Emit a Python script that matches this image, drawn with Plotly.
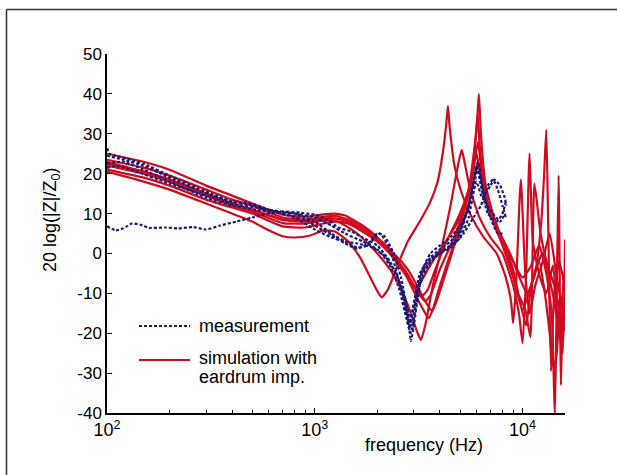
import plotly.graph_objects as go

# ---------------- data ----------------
# measurement curves (dashed)
m1_f = [100, 110, 120, 132, 145, 160, 190, 220, 260, 300, 350, 420, 500, 600, 700, 850, 1000, 1150, 1300, 1500, 1700, 2000, 2300, 2600, 2800, 2950, 3050, 3300, 3600, 4000, 4500, 5000, 5600, 6000, 6400, 7000, 7300, 7800, 8200, 8350]
m1_v = [6.8, 5.8, 6.3, 7.5, 7.2, 6.4, 6.5, 6.3, 6.6, 6.0, 7.0, 8.0, 9.0, 10.0, 10.5, 10.2, 9.7, 8.5, 6.5, 5.5, 4.0, 2.0, -2, -8, -14, -19, -12, -4, 0, 2, 4, 7, 12, 18, 14, 17, 18.5, 17, 14, 12]

m2_f = [100, 103, 110, 130, 150, 200, 300, 400, 500, 700, 900, 1000, 1200, 1400, 1600, 1800, 2000, 2150, 2400, 2600, 2800, 2900, 3000, 3200, 3500, 4000, 4500, 5000, 5500, 6000, 6300, 6800, 7500, 8000, 8300]
m2_v = [26.4, 25, 24.5, 23.5, 22.5, 19.5, 15.5, 13, 12, 10, 8.5, 7, 4.6, 2.5, 1.2, 2.5, 5, 4.5, 0, -6, -15, -22, -18, -8, -3, 0, 2, 5, 12, 22, 17, 10, 8, 10, 13]

m3_f = [100, 120, 150, 200, 300, 400, 500, 600, 800, 1000, 1200, 1400, 1600, 1900, 2200, 2500, 2700, 2850, 2950, 3200, 3500, 4000, 4500, 5000, 5500, 5900, 6100, 6500, 7000, 7600, 8000]
m3_v = [24.5, 23.5, 22, 19, 15, 13, 12.5, 11, 9, 6, 4, 3, 2.5, 1.5, -1, -6, -12, -18, -14, -6, -2, 0, 1.5, 4, 9, 18, 23, 15, 9, 5, 5]

m4_f = [100, 110, 130, 200, 300, 400, 600, 800, 1000, 1200, 1400, 1700, 2000, 2300, 2550, 2750, 2850, 3000, 3200, 3600, 4000, 4500, 5000, 5500, 6000, 6200, 6600, 7200, 7800, 8200]
m4_v = [21.4, 22, 21, 17.5, 14.5, 12.5, 11, 10, 9, 7, 5, 3, 1, -3, -9, -16, -19, -13, -5, -1, 1, 3, 6, 12, 21, 20, 13, 10, 8, 10]

m5_f = [100, 120, 150, 200, 300, 400, 600, 800, 1000, 1200, 1400, 1600, 1800, 2050, 2300, 2600, 2800, 2900, 3050, 3300, 3700, 4200, 4800, 5200, 5800, 6300, 6800, 7200, 7600, 8000, 8300]
m5_v = [22.5, 23, 21, 18, 14, 12, 10.5, 10, 8, 5, 3, 1.5, 2, 5, 1, -9, -17, -20, -14, -5, -1, 1, 3, 5, 9, 12, 17, 18.5, 16, 12, 9]

# simulation curves (solid)
s1_f = [100, 150, 200, 300, 400, 500, 600, 700, 800, 950, 1100, 1250, 1450, 1650, 1850, 2000, 2100, 2250, 2500, 2800, 3200, 3600, 3900, 4150, 4300, 4370, 4450, 4700, 5100, 5700, 6500, 7500, 8300, 8800, 9000, 9300, 9800, 10300, 10800, 11500, 12500, 13500, 14500, 15300, 16000]
s1_v = [20.5, 18, 16, 12.5, 10, 8, 5.8, 4.3, 4, 4.5, 5.8, 5.5, 3, -1, -6, -9.5, -11, -9, -3, 3, 8, 13, 18, 26, 33, 37, 32, 22, 15, 9, 4, 0, -6, -12, -17.5, -8, 18.5, -5, -15, -8, -2, 5, -5, -12, -16]

s2_f = [100, 150, 200, 300, 400, 500, 700, 900, 1100, 1250, 1400, 1600, 1800, 2000, 2300, 2600, 2900, 3100, 3240, 3400, 3700, 4100, 4500, 4800, 5000, 5100, 5250, 5600, 6200, 7000, 8000, 9000, 9600, 10000, 10400, 10800, 11200, 12000, 13000, 14000, 15000, 16000]
s2_v = [23, 20.5, 18.5, 15, 12.5, 11, 8.5, 8.2, 8.5, 8.2, 7, 5, 2.5, 0, -4, -9, -15, -19.5, -21.7, -18, -8, 2, 12, 20, 24.5, 26, 23, 16, 9, 4, 0, -8, -15, -22.5, -5, 25, 3, -5, -10, -3, -19.5, -16]

s3_f = [100, 150, 200, 300, 400, 500, 700, 900, 1100, 1250, 1400, 1700, 2000, 2300, 2600, 2850, 3000, 3100, 3250, 3500, 3900, 4400, 5000, 5500, 5850, 6050, 6160, 6300, 6600, 7200, 8000, 8800, 9500, 10300, 10900, 11400, 12200, 13200, 14200, 15200, 16000]
s3_v = [25, 23, 21, 17, 14.5, 12.5, 9.7, 9.2, 9.8, 10, 9.5, 7, 4, 0, -3, -6.5, -8, -8.4, -7, -4, 0, 4, 9, 16, 26, 34, 40, 30, 18, 10, 3, -3, -10, -14, -21, 17.5, 5, -3, -8, -15, -19.5]

s4_f = [100, 150, 200, 300, 400, 500, 700, 900, 1100, 1250, 1450, 1700, 2000, 2300, 2600, 2900, 3200, 3400, 3530, 3700, 4000, 4500, 5000, 5500, 5850, 6000, 6080, 6200, 6500, 7000, 7800, 8700, 9500, 10500, 11500, 12300, 12700, 13000, 13300, 13700, 14200, 15000, 16000]
s4_v = [23.5, 21.5, 19.5, 16, 13.5, 12, 9, 8.5, 9.2, 9.4, 8.5, 6.5, 4, 1, -3, -8, -12.5, -15, -16.2, -14, -8, 0, 7, 15, 25, 31, 35, 28, 17, 10, 5, 0, -5, -10, -5, 8, 20, 31, 5, -29.5, -10, -2, -8.5]

s5_f = [100, 150, 200, 300, 400, 500, 700, 900, 1100, 1250, 1450, 1700, 2000, 2400, 2800, 3100, 3400, 3600, 3690, 3850, 4200, 4700, 5200, 5600, 5900, 6100, 6300, 6700, 7300, 8100, 9000, 10000, 11000, 12000, 13000, 13800, 14300, 14600, 14900, 15300, 15700, 16000]
s5_v = [22.5, 20.5, 18.5, 15, 12.5, 11, 8.4, 8, 8.8, 8.8, 8, 6, 3.5, 0, -4, -8, -12, -14, -14.2, -12, -6, 2, 8, 14, 20, 23, 20, 13, 8, 3, -2, -6, -3, 2, -5, -15, -41, -10, 19.5, -33, -5, -8.5]

s6_f = [100, 150, 200, 300, 400, 500, 700, 900, 1100, 1250, 1450, 1700, 2000, 2300, 2700, 3000, 3300, 3500, 3800, 4300, 4900, 5500, 5900, 6100, 6300, 6700, 7300, 8200, 9000, 9700, 10400, 11000, 11700, 12500, 13400, 14200, 15000, 15600, 16000]
s6_v = [22, 20, 18, 14.5, 12, 10.5, 7.6, 7.5, 8.2, 8.2, 7.5, 5.5, 3, 0, -5, -8.5, -10.5, -9, -4, 3, 9, 16, 24, 28, 22, 14, 8, 2, -4, -12, -18, -8, -3, 0, -6, -12, -20, -25, 3.5]

s7_f = [100, 150, 200, 300, 400, 500, 700, 900, 1100, 1250, 1450, 1700, 2000, 2300, 2700, 3000, 3200, 3400, 3600, 4000, 4500, 5000, 5500, 5800, 6000, 6200, 6600, 7200, 8000, 9000, 10000, 11000, 12000, 12800, 13500, 14100, 14600, 15200, 16000]
s7_v = [21, 19, 17, 13.5, 11.5, 10, 6.8, 6.5, 7.5, 8, 7.5, 5.5, 3, 0, -4, -8, -10.5, -12, -10.5, -4, 2, 8, 15, 21, 25, 21, 14, 8, 2, -6, -14, -8, -2, -10, -20, -29, -25, -10, -19.5]

measurements = [(m1_f, m1_v), (m2_f, m2_v), (m3_f, m3_v), (m4_f, m4_v), (m5_f, m5_v)]
simulations = [(s1_f, s1_v), (s2_f, s2_v), (s3_f, s3_v), (s4_f, s4_v), (s5_f, s5_v), (s6_f, s6_v), (s7_f, s7_v)]

x_tickvals = [100, 1000, 10000]
x_ticktext = ["10<sup>2</sup>", "10<sup>3</sup>", "10<sup>4</sup>"]
x_minor = [200, 300, 400, 500, 600, 700, 800, 900,
           2000, 3000, 4000, 5000, 6000, 7000, 8000, 9000]
y_tickvals = [-40, -30, -20, -10, 0, 10, 20, 30, 40, 50]
y_ticktext = ["-40", "-30", "-20", "-10", "0", "10", "20", "30", "40", "50"]

legend_meas = "measurement"
legend_sim_1 = "simulation with"
legend_sim_2 = "eardrum imp."
x_title = "frequency (Hz)"
y_title = "20 log(|Z|/Z<sub>0</sub>)"

# ---------------- styling / layout ----------------
W, H = 617, 475
L, R, T, B = 107, 565, 54, 413
FONT = "Liberation Sans, Arial, sans-serif"
RED = "#d20a20"
NAVY = "#1c1a72"


def px(x):
    return (x - L) / (R - L)


def py(y):
    return (B - y) / (B - T)


fig = go.Figure()
for f, v in simulations:
    fig.add_trace(go.Scatter(x=f, y=v, mode="lines",
                             line=dict(color=RED, width=2.2, shape="spline", smoothing=0.5),
                             showlegend=False, hoverinfo="skip"))
for f, v in measurements:
    fig.add_trace(go.Scatter(x=f, y=v, mode="lines",
                             line=dict(color=NAVY, width=2.2, dash="3px,2px", shape="spline", smoothing=0.5),
                             showlegend=False, hoverinfo="skip"))

fig.update_xaxes(type="log", range=[2, 4.204], showgrid=False, zeroline=False,
                 showline=True, linecolor="black", linewidth=1.5, mirror=False,
                 ticks="inside", ticklen=5, tickcolor="black", tickwidth=1,
                 tickvals=x_tickvals, ticktext=x_ticktext,
                 tickfont=dict(family=FONT, size=18, color="black"),
                 minor=dict(tickvals=x_minor, ticks="inside", ticklen=3, tickcolor="black", tickwidth=1))
fig.update_yaxes(range=[-40, 50], showgrid=False, zeroline=False,
                 showline=True, linecolor="black", linewidth=1.5,
                 ticks="inside", ticklen=5, tickcolor="black", tickwidth=1,
                 tickvals=y_tickvals, ticktext=y_ticktext,
                 tickfont=dict(family=FONT, size=17, color="black"))

shapes = [
    # frame around the figure
    dict(type="line", xref="paper", yref="paper", x0=px(6.5), x1=px(W + 5), y0=py(9.5), y1=py(9.5),
         line=dict(color="#333333", width=1.5)),
    dict(type="line", xref="paper", yref="paper", x0=px(6.5), x1=px(6.5), y0=py(9.5), y1=py(H + 5),
         line=dict(color="#333333", width=1.5)),
    # legend samples
    dict(type="line", xref="paper", yref="paper", x0=px(139), x1=px(190), y0=py(326), y1=py(326),
         line=dict(color=NAVY, width=2, dash="3px,2px")),
    dict(type="line", xref="paper", yref="paper", x0=px(139), x1=px(190), y0=py(360), y1=py(360),
         line=dict(color=RED, width=2)),
]

annots = [
    dict(text=legend_meas, x=px(197), y=py(326), xanchor="left", yanchor="middle"),
    dict(text=legend_sim_1, x=px(197), y=py(358), xanchor="left", yanchor="middle"),
    dict(text=legend_sim_2, x=px(197), y=py(377), xanchor="left", yanchor="middle"),
    dict(text=x_title, x=px(424), y=py(445), xanchor="center", yanchor="middle"),
    dict(text=y_title, x=px(51), y=py(220), xanchor="center", yanchor="middle", textangle=-90),
]
for a in annots:
    a.update(xref="paper", yref="paper", showarrow=False,
             font=dict(family=FONT, size=18, color="black"))

fig.update_layout(width=W, height=H, margin=dict(l=L, r=W - R, t=T, b=H - B),
                  paper_bgcolor="white", plot_bgcolor="white",
                  shapes=shapes, annotations=annots, showlegend=False)

fig.write_html("out.html", config={"displayModeBar": False},
               post_script="document.body.style.margin='0';document.body.style.overflow='hidden';")
